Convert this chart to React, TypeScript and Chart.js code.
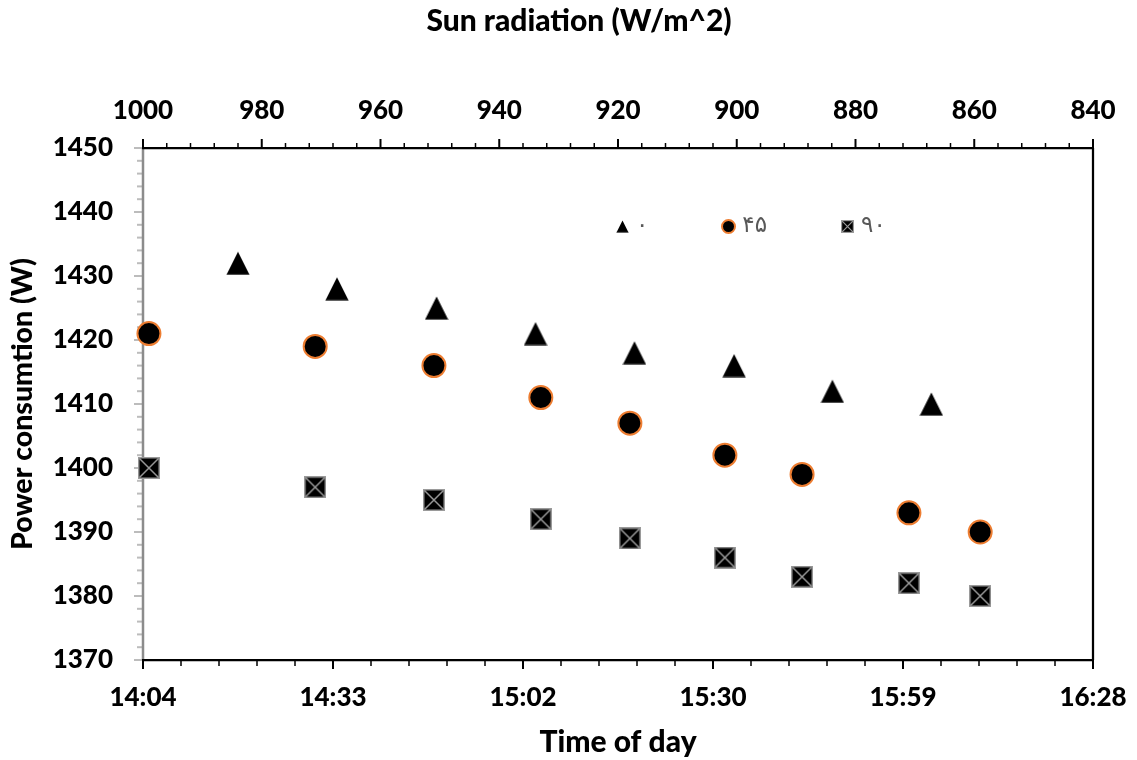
import React, { useEffect, useRef } from 'react';
import { Chart, registerables } from 'chart.js';

Chart.register(...registerables);

// ---------- data ----------
const seriesLabels = ['۰', '۴۵', '۹۰'];

// series "۰" : time of day in minutes after midnight (bottom axis)
const timeSeries0 = [858.4, 873.4, 888.5, 903.5, 918.5, 933.6, 948.5, 963.5];
const power0 = [1432, 1428, 1425, 1421, 1418, 1416, 1412, 1410];

// series "۴۵" and "۹۰" : sun radiation W/m^2 (top axis)
const radiation = [999, 971, 951, 933, 918, 902, 889, 871, 859];
const power45 = [1421, 1419, 1416, 1411, 1407, 1402, 1399, 1393, 1390];
const power90 = [1400, 1397, 1395, 1392, 1389, 1386, 1383, 1382, 1380];

// axis ticks
const timeTicks = [844, 872.8, 901.6, 930.4, 959.2, 988];
const timeTickLabels = ['14:04', '14:33', '15:02', '15:30', '15:59', '16:28'];
const radiationTicks = [1000, 980, 960, 940, 920, 900, 880, 860, 840];
const powerTicks = [1370, 1380, 1390, 1400, 1410, 1420, 1430, 1440, 1450];

const xTitle = 'Time of day';
const x2Title = 'Sun radiation (W/m^2)';
const yTitle = 'Power consumtion (W)';

const FONT = 'Lato, Carlito, "Noto Sans", sans-serif';
const WEIGHT = '900';

// ---------- marker images ----------
function makeTriangle(w: number, h: number) {
  const c = document.createElement('canvas');
  c.width = w + 1;
  c.height = h + 1;
  const g = c.getContext('2d')!;
  g.fillStyle = '#000';
  g.beginPath();
  g.moveTo((w + 1) / 2, 0.5);
  g.lineTo(w + 0.5, h + 0.5);
  g.lineTo(0.5, h + 0.5);
  g.closePath();
  g.fill();
  g.strokeStyle = '#3a3a3a';
  g.lineWidth = 0.6;
  g.beginPath();
  g.moveTo(0.5, h + 0.2);
  g.lineTo(w + 0.5, h + 0.2);
  g.stroke();
  return c;
}

function makeCrossBox(s: number, lw: number) {
  const c = document.createElement('canvas');
  c.width = s;
  c.height = s;
  const g = c.getContext('2d')!;
  g.fillStyle = '#000';
  g.fillRect(0, 0, s, s);
  g.strokeStyle = '#9a9a9a';
  g.lineWidth = lw;
  g.strokeRect(lw / 2, lw / 2, s - lw, s - lw);
  g.beginPath();
  g.moveTo(lw, lw);
  g.lineTo(s - lw, s - lw);
  g.moveTo(s - lw, lw);
  g.lineTo(lw, s - lw);
  g.stroke();
  return c;
}

function makeCircle(d: number, bw: number) {
  const c = document.createElement('canvas');
  c.width = d;
  c.height = d;
  const g = c.getContext('2d')!;
  g.beginPath();
  g.arc(d / 2, d / 2, d / 2 - bw / 2, 0, Math.PI * 2);
  g.fillStyle = '#000';
  g.fill();
  g.strokeStyle = '#ED7D31';
  g.lineWidth = bw;
  g.stroke();
  return c;
}

function eachTick(majors: number[], n: number, cb: (v: number, major: boolean) => void) {
  for (let i = 0; i < majors.length; i++) {
    cb(majors[i], true);
    if (i < majors.length - 1) {
      for (let k = 1; k < n; k++) cb(majors[i] + ((majors[i + 1] - majors[i]) * k) / n, false);
    }
  }
}

const axesPlugin = {
  id: 'excelAxes',
  beforeDatasetsDraw(chart: any) {
    const { ctx, chartArea: a, scales } = chart;
    const line = (x1: number, y1: number, x2: number, y2: number) => {
      ctx.beginPath();
      ctx.moveTo(x1, y1);
      ctx.lineTo(x2, y2);
      ctx.stroke();
    };
    ctx.save();
    ctx.lineCap = 'butt';
    // left axis (gray)
    ctx.strokeStyle = '#bcbcbc';
    eachTick(powerTicks, 5, (v, major) => {
      const py = scales.y.getPixelForValue(v);
      ctx.lineWidth = 2;
      line(a.left - (major ? 9 : 6), py, a.left, py);
    });
    ctx.strokeStyle = '#8c8c8c';
    ctx.lineWidth = 2.5;
    line(a.left, a.top, a.left, a.bottom);

    // top axis
    ctx.strokeStyle = '#000';
    eachTick(radiationTicks, 5, (v, major) => {
      const px = scales.x2.getPixelForValue(v);
      ctx.lineWidth = major ? 2 : 1.5;
      line(px, a.top - (major ? 9 : 5), px, a.top);
    });
    ctx.lineWidth = 2.25;
    line(a.left - 1, a.top, a.right + 1, a.top);

    // bottom axis
    eachTick(timeTicks, 5, (v, major) => {
      const px = scales.x.getPixelForValue(v);
      ctx.lineWidth = major ? 2 : 1.5;
      line(px, a.bottom, px, a.bottom + (major ? 9 : 6));
    });
    ctx.lineWidth = 2.25;
    line(a.left - 1, a.bottom, a.right + 1, a.bottom);

    // right border
    line(a.right, a.top, a.right, a.bottom);

    // top title
    ctx.fillStyle = '#000';
    ctx.font = `${WEIGHT} 30px ${FONT}`;
    ctx.textAlign = 'center';
    ctx.textBaseline = 'middle';
    ctx.fillText(x2Title, (a.left + a.right) / 2 - 39, 21);
    ctx.restore();
  },
};

let legendIcons: HTMLCanvasElement[] = [];

const legendPlugin = {
  id: 'inlineLegend',
  afterDatasetsDraw(chart: any) {
    const { ctx, chartArea: a } = chart;
    const cy = a.top + 78;
    let cx = a.left + 472;
    ctx.save();
    ctx.font = `23px "DejaVu Sans", sans-serif`;
    ctx.fillStyle = '#595959';
    ctx.textBaseline = 'middle';
    ctx.textAlign = 'left';
    chart.data.datasets.forEach((ds: any, i: number) => {
      const icon = legendIcons[i];
      ctx.drawImage(icon, Math.round(cx + 7 - icon.width / 2), Math.round(cy - icon.height / 2));
      const tx = cx + 21;
      ctx.fillText(ds.label, tx, cy);
      cx = tx + ctx.measureText(ds.label).width + 73;
    });
    ctx.restore();
  },
};

export default function App() {
  const ref = useRef<HTMLCanvasElement>(null);

  useEffect(() => {
    const tri = makeTriangle(23, 23);
    const box = makeCrossBox(22, 1.5);
    legendIcons = [makeTriangle(12, 12), makeCircle(15, 2), makeCrossBox(13, 1.2)];

    const tickFont = { family: FONT, size: 26, weight: WEIGHT as any };
    const titleFont = { family: FONT, size: 30, weight: WEIGHT as any };
    const yTitleFont = { family: FONT, size: 28.5, weight: WEIGHT as any };

    const chart = new Chart(ref.current!, {
      type: 'scatter',
      data: {
        datasets: [
          {
            label: seriesLabels[0],
            data: timeSeries0.map((t, i) => ({ x: t, y: power0[i] })),
            xAxisID: 'x',
            yAxisID: 'y',
            pointStyle: tri as any,
            pointRadius: 12,
            clip: false as any,
          },
          {
            label: seriesLabels[1],
            data: radiation.map((r, i) => ({ x: r, y: power45[i] })),
            xAxisID: 'x2',
            yAxisID: 'y',
            pointStyle: 'circle',
            pointRadius: 11.5,
            backgroundColor: '#000',
            borderColor: '#ED7D31',
            borderWidth: 2,
            clip: false as any,
          },
          {
            label: seriesLabels[2],
            data: radiation.map((r, i) => ({ x: r, y: power90[i] })),
            xAxisID: 'x2',
            yAxisID: 'y',
            pointStyle: box as any,
            pointRadius: 11,
            clip: false as any,
          },
        ],
      },
      options: {
        animation: false,
        responsive: true,
        maintainAspectRatio: false,
        events: [],
        layout: { padding: { left: 0, right: 44, top: 0, bottom: 0 } },
        plugins: { legend: { display: false }, tooltip: { enabled: false }, title: { display: false } },
        scales: {
          x: {
            type: 'linear',
            position: 'bottom',
            min: timeTicks[0],
            max: timeTicks[timeTicks.length - 1],
            afterBuildTicks: (s: any) => {
              s.ticks = timeTicks.map((v) => ({ value: v }));
            },
            afterFit: (s: any) => {
              s.height = 100;
              s.paddingLeft = 0;
              s.paddingRight = 0;
            },
            ticks: {
              autoSkip: false,
              maxRotation: 0,
              font: tickFont,
              color: '#000',
              padding: 22,
              callback: (_v: any, i: number) => timeTickLabels[i],
            },
            grid: { display: false, drawTicks: false },
            border: { display: false },
            title: { display: true, text: xTitle, font: titleFont, color: '#000', padding: { top: 0, bottom: 0 } },
          },
          x2: {
            type: 'linear',
            position: 'top',
            reverse: true,
            min: radiationTicks[radiationTicks.length - 1],
            max: radiationTicks[0],
            afterBuildTicks: (s: any) => {
              s.ticks = radiationTicks.map((v) => ({ value: v }));
            },
            afterFit: (s: any) => {
              s.height = 148;
              s.paddingLeft = 0;
              s.paddingRight = 0;
            },
            ticks: {
              autoSkip: false,
              maxRotation: 0,
              font: tickFont,
              color: '#000',
              padding: 22,
              callback: (v: any) => String(v),
            },
            grid: { display: false, drawTicks: false },
            border: { display: false },
          },
          y: {
            type: 'linear',
            position: 'left',
            min: powerTicks[0],
            max: powerTicks[powerTicks.length - 1],
            afterBuildTicks: (s: any) => {
              s.ticks = powerTicks.map((v) => ({ value: v }));
            },
            afterFit: (s: any) => {
              s.width = 143;
              s.paddingTop = 0;
              s.paddingBottom = 0;
            },
            ticks: {
              autoSkip: false,
              font: tickFont,
              color: '#000',
              padding: 30,
              callback: (v: any) => String(v),
            },
            grid: { display: false, drawTicks: false },
            border: { display: false },
            title: { display: true, text: yTitle, font: yTitleFont, color: '#000', padding: { top: 6, bottom: 0 } },
          },
        },
      } as any,
      plugins: [axesPlugin, legendPlugin],
    });
    return () => chart.destroy();
  }, []);

  return (
    <div style={{ position: 'absolute', left: 0, top: 0, width: 1137, height: 760, background: '#fff' }}>
      <canvas ref={ref} />
    </div>
  );
}
